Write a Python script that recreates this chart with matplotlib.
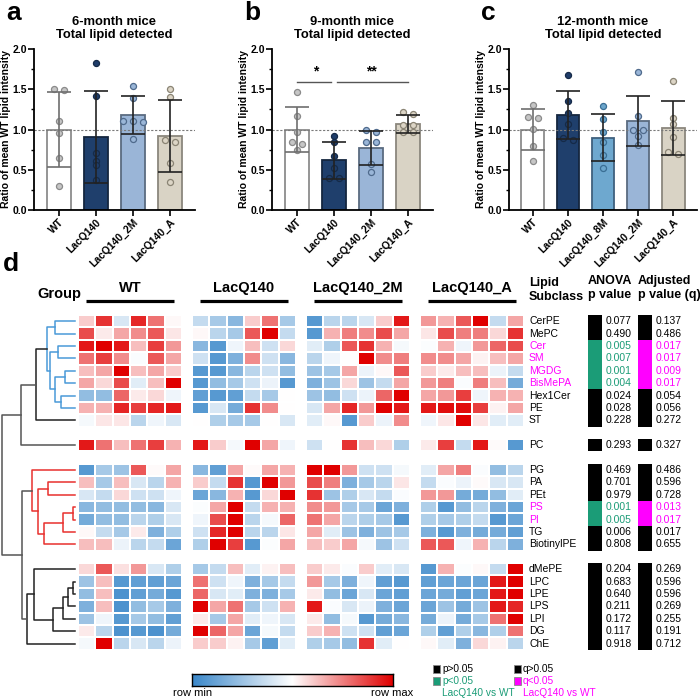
import numpy as np
import matplotlib
matplotlib.use("Agg")
import matplotlib.pyplot as plt
from matplotlib.colors import LinearSegmentedColormap
from matplotlib.patches import Rectangle

plt.rcParams['font.family'] = ['Liberation Sans', 'DejaVu Sans']

# ---------------- bar panel data ----------------
groups_ab = ['WT', 'LacQ140', 'LacQ140_2M', 'LacQ140_A']
groups_c = ['WT', 'LacQ140', 'LacQ140_8M', 'LacQ140_2M', 'LacQ140_A']

mean_a = [1.00, 0.91, 1.18, 0.92]
sd_a = [0.47, 0.57, 0.24, 0.45]
pts_a = [[1.49, 1.50, 1.10, 0.96, 0.65, 0.30],
         [1.82, 1.41, 0.71, 0.61, 0.56, 0.37],
         [1.54, 1.39, 1.10, 1.09, 1.10, 0.88],
         [1.50, 1.40, 0.84, 0.87, 0.59, 0.35]]

mean_b = [1.00, 0.62, 0.77, 1.07]
sd_b = [0.28, 0.23, 0.21, 0.11]
pts_b = [[1.47, 1.17, 0.97, 0.84, 0.82, 0.74],
         [0.92, 0.85, 0.67, 0.52, 0.40, 0.40],
         [1.00, 0.97, 0.84, 0.84, 0.57, 0.47],
         [1.22, 1.19, 1.06, 1.06, 0.97, 0.97]]

mean_c = [1.00, 1.18, 0.90, 1.10, 1.02]
sd_c = [0.25, 0.30, 0.29, 0.31, 0.34]
pts_c = [[1.30, 1.16, 1.14, 1.01, 0.80, 0.61],
         [1.68, 1.36, 1.20, 1.07, 0.89, 0.87],
         [1.29, 1.13, 0.97, 0.85, 0.68, 0.52],
         [1.71, 1.17, 1.00, 1.00, 0.92, 0.81],
         [1.60, 1.14, 1.07, 0.91, 0.72, 0.70]]

bar_fill = {'WT': 'white', 'LacQ140': '#1f3f6c', 'LacQ140_8M': '#6ea8cf',
            'LacQ140_2M': '#9ab5d7', 'LacQ140_A': '#d9d3c5'}
bar_edge = {'WT': '#8c8c8c', 'LacQ140': '#15263f', 'LacQ140_8M': '#3f607e',
            'LacQ140_2M': '#5a6b80', 'LacQ140_A': '#8b877d'}
pt_fill = {'WT': '#c6c6c6', 'LacQ140': '#1f3d6a', 'LacQ140_8M': '#6ca6cc',
           'LacQ140_2M': '#9ab6d8', 'LacQ140_A': '#dcd5c6'}
pt_edge = {'WT': '#8a8a8a', 'LacQ140': '#152a48', 'LacQ140_8M': '#3a6e94',
           'LacQ140_2M': '#4f6a8c', 'LacQ140_A': '#8a8474'}

# ---------------- heatmap data (row-scaled, -1 = row min, 1 = row max) ----------------
lipids = ['CerPE', 'MePC', 'Cer', 'SM', 'MGDG', 'BisMePA', 'Hex1Cer', 'PE', 'ST',
          'PC',
          'PG', 'PA', 'PEt', 'PS', 'PI', 'TG', 'BiotinylPE',
          'dMePE', 'LPC', 'LPE', 'LPS', 'LPI', 'DG', 'ChE']
anova_p = ['0.077', '0.490', '0.005', '0.007', '0.001', '0.004', '0.024', '0.028', '0.228',
           '0.293',
           '0.469', '0.701', '0.979', '0.001', '0.005', '0.006', '0.808',
           '0.204', '0.683', '0.640', '0.211', '0.172', '0.117', '0.918']
adj_q = ['0.137', '0.486', '0.017', '0.017', '0.009', '0.017', '0.054', '0.056', '0.272',
         '0.327',
         '0.486', '0.596', '0.728', '0.013', '0.017', '0.017', '0.655',
         '0.269', '0.596', '0.596', '0.269', '0.255', '0.191', '0.712']
sig_vs_wt = [0, 0, 1, 1, 1, 1, 0, 0, 0,
             0,
             0, 0, 0, 1, 1, 0, 0,
             0, 0, 0, 0, 0, 0, 0]

hm_wt = [
    [0.20, 0.80, -0.20, 0.85, 0.55, 0.03],
    [0.70, 0.08, 0.35, 0.45, 0.65, 0.10],
    [0.90, 1.00, 0.90, 0.25, 0.75, 0.40],
    [0.55, 0.75, 0.45, -0.03, 0.65, 0.35],
    [0.25, 0.35, 1.00, 0.25, 0.35, 0.20],
    [0.35, 0.15, 0.70, -0.15, 0.25, 1.00],
    [-0.55, -0.55, 0.60, 0.08, 0.15, -0.08],
    [0.30, 0.30, 0.85, 0.75, 0.85, 0.90],
    [-0.05, 0.10, 0.10, -0.35, -0.08, -0.20],
    [0.90, 0.55, 0.25, 0.55, 0.75, 0.30],
    [-0.85, -0.45, -0.50, 0.65, 0.02, 0.35],
    [0.25, -0.45, 0.25, -0.20, -0.35, 0.30],
    [-0.20, -0.30, 0.15, -0.25, -0.25, -0.08],
    [-0.60, -0.55, -0.55, -0.55, -0.60, -0.20],
    [-0.70, -0.55, -0.55, -0.35, -0.40, -0.20],
    [0.03, -0.30, -0.45, 0.08, -0.65, -0.40],
    [0.25, 0.25, -0.10, -0.35, -0.30, -0.75],
    [0.15, 0.65, 0.12, 0.40, -0.20, -0.40],
    [-0.50, 0.25, -0.85, -0.80, -0.80, -0.75],
    [-0.55, 0.25, -0.90, -0.80, -0.70, -0.85],
    [-0.65, 0.25, -0.90, -0.55, -0.45, -0.65],
    [-0.50, -0.08, -0.85, -0.45, -0.55, -0.80],
    [0.08, -0.35, -0.90, -0.85, -0.90, -0.70],
    [-0.05, 1.00, -0.35, -0.20, -0.35, -0.10]]
hm_q140 = [
    [-0.30, -0.45, -0.60, 0.20, 0.55, -0.45],
    [0.03, -0.35, -0.45, 0.65, 1.00, -0.30],
    [-0.60, -0.85, -0.08, 0.25, -0.25, 0.15],
    [-0.25, -0.85, -0.65, 0.45, -0.25, -0.60],
    [-0.85, -0.85, -0.60, -0.35, -0.25, -0.55],
    [-0.85, -0.55, -0.45, -0.25, -0.10, -0.85],
    [-0.80, -0.85, -0.80, -0.30, -0.45, 0.00],
    [-0.85, -0.20, -0.70, 0.80, 0.45, 0.00],
    [0.00, -0.40, -0.45, -0.45, 0.00, -0.20],
    [0.90, 0.20, -0.05, 1.00, 0.35, -0.08],
    [-0.60, -0.80, 0.35, 0.02, 0.35, 0.30],
    [0.20, -0.30, 0.80, -0.85, 1.00, 0.40],
    [-0.75, -0.60, 0.30, -0.85, 0.15, 1.00],
    [-0.02, 0.35, 1.00, -0.30, 0.30, 0.30],
    [-0.08, 0.70, 1.00, -0.35, -0.05, 0.60],
    [-0.25, 0.85, 1.00, -0.35, -0.35, 0.10],
    [-0.40, 1.00, 0.75, -0.85, -0.02, 0.35],
    [-0.45, -0.30, 0.25, -0.15, 0.05, 0.25],
    [0.55, -0.25, -0.08, -0.65, -0.45, -0.30],
    [0.60, -0.20, -0.15, -0.65, -0.65, -0.45],
    [1.00, 0.35, 0.55, -0.45, -0.25, 0.30],
    [0.08, -0.45, 0.35, -0.15, -0.08, -0.20],
    [1.00, 0.60, 0.35, -0.75, -0.05, -0.30],
    [0.20, 0.20, 0.05, -0.45, -0.80, -0.15]]
hm_2m = [
    [-0.85, -0.35, -0.35, -0.20, 0.20, 0.90],
    [-0.85, 0.30, 0.50, 0.45, 0.70, 0.35],
    [-0.15, -0.40, 0.65, 0.80, 0.30, -0.05],
    [-0.35, -0.08, 0.00, 1.00, 0.45, 0.50],
    [-0.50, -0.45, 0.35, -0.10, 0.03, 0.65],
    [-0.65, -0.50, 0.15, -0.50, -0.30, 0.35],
    [-0.50, -0.55, -0.25, -0.10, 0.60, 1.00],
    [-0.20, 0.35, 0.85, 0.40, 1.00, 0.90],
    [-0.15, 0.03, -0.85, 0.20, -0.10, 0.45],
    [-0.25, 0.00, 0.80, 0.25, 0.15, -0.40],
    [1.00, 1.00, 0.40, -0.25, -0.25, -0.05],
    [0.70, 0.50, -0.65, -0.45, -0.35, 0.10],
    [0.80, -0.50, -0.40, -0.20, -0.30, -0.03],
    [0.45, 0.40, -0.45, -0.45, -0.75, -0.65],
    [0.55, 0.35, -0.35, -0.40, -0.45, -0.85],
    [0.35, -0.15, -0.50, -0.65, -0.50, -0.45],
    [0.25, 0.20, 0.35, -0.05, -0.50, -0.25],
    [0.20, 0.08, -0.03, 0.20, -0.15, -0.20],
    [0.40, -0.45, -0.65, -0.08, -0.80, -0.85],
    [0.08, -0.55, -0.75, -0.20, -0.75, -0.80],
    [0.90, -0.03, -0.20, -0.10, -0.65, -0.75],
    [0.08, -0.55, -0.05, -0.85, -0.70, -0.60],
    [0.20, 0.30, -0.25, -0.25, -0.80, -0.75],
    [-0.40, -0.45, -0.55, 0.80, -0.15, 0.00]]
hm_a = [
    [0.40, 0.30, 0.65, 1.00, -0.30, 0.35],
    [0.10, 0.70, 0.50, 0.50, 0.15, 0.80],
    [-0.02, 0.30, -0.08, 0.40, 0.60, 0.70],
    [0.45, 0.45, 0.35, 0.05, 0.25, 0.35],
    [0.20, 0.08, 0.25, 0.25, -0.10, -0.30],
    [0.40, 0.50, -0.03, 0.50, 0.25, -0.70],
    [0.35, 0.40, 0.75, -0.08, 0.30, 0.30],
    [0.90, 0.95, 0.95, 0.75, 0.05, 0.35],
    [-0.08, 0.10, 1.00, 0.10, -0.15, -0.15],
    [0.08, 0.75, -0.30, 0.90, 0.02, -0.85],
    [-0.15, 0.35, 0.50, -0.03, -0.55, -0.35],
    [-0.30, -0.03, -0.10, 0.02, -0.20, -0.20],
    [0.40, 0.40, -0.70, -0.70, -0.55, -0.15],
    [-0.40, -0.85, -0.55, -0.35, -0.65, -0.75],
    [-0.40, -0.45, -0.40, -0.30, -0.85, -0.75],
    [-0.65, -0.85, -0.65, -0.70, -0.70, -0.80],
    [0.65, 0.65, -0.08, 0.30, -0.35, -0.65],
    [-0.85, 0.30, -0.02, 0.03, -0.30, 1.00],
    [-0.80, -0.75, -0.75, -0.75, 0.90, 1.00],
    [-0.75, -0.70, -0.80, -0.75, 0.90, 1.00],
    [-0.75, -0.50, -0.70, -0.50, 0.90, 0.85],
    [-0.70, -0.10, -0.70, -0.45, 0.55, 1.00],
    [-0.40, -0.80, -0.40, -0.60, -0.40, 0.55],
    [0.03, -0.15, -0.65, 0.15, 0.05, -0.35]]
hm_groups = ['WT', 'LacQ140', 'LacQ140_2M', 'LacQ140_A']
hm_data = [hm_wt, hm_q140, hm_2m, hm_a]

# row clustering tree: (link colour, merge distance, left, right); ints are row indices
BL, RD, BK, GR = '#4a9ad8', '#e8302e', '#222222', '#555555'
tree = (GR, 73,
        (GR, 54,
         (BK, 39,
          (BL, 28, (BL, 20, 0, 1),
           (BL, 25, (BL, 17, 2, 3),
            (BL, 20, (BL, 10, 4, 5), (BL, 14, 6, 7)))),
          8),
         9),
        (GR, 53,
         (RD, 43, 10,
          (RD, 37, (RD, 27, 11, 12),
           (RD, 31, (RD, 12, (RD, 2, 13, 14), 15), 16))),
         (BK, 48,
          (BK, 41, 17,
           (BK, 22, (BK, 12, (BK, 7, (BK, 2, 18, 19), 20), 21), 22)),
          23)))

# ---------------- figure ----------------
W, H = 700, 699
fig = plt.figure(figsize=(7.0, 6.99), dpi=100)
hax = fig.add_axes([0, 0, 1, 1])
hax.set_xlim(0, W)
hax.set_ylim(H, 0)
hax.axis('off')


def bar_panel(rect, groups, means, sds, pts, title, letter, wbar):
    l, t, r, b = rect
    ax = fig.add_axes([l / W, 1 - b / H, (r - l) / W, (b - t) / H])
    x = np.arange(len(groups))
    for i, g in enumerate(groups):
        ax.bar(x[i], means[i], width=wbar, color=bar_fill[g], edgecolor=bar_edge[g],
               linewidth=1.3, zorder=1)
        # simple swarm: spread points sharing nearly the same value
        p = np.sort(np.array(pts[i]))[::-1]
        xs = np.zeros(len(p))
        k = 0
        while k < len(p):
            j = k
            while j + 1 < len(p) and abs(p[j + 1] - p[k]) < 0.035:
                j += 1
            n = j - k + 1
            xs[k:j + 1] = (np.arange(n) - (n - 1) / 2) * 0.28
            k = j + 1
        ax.scatter(x[i] + xs, p, s=19, color=pt_fill[g], edgecolor=pt_edge[g],
                   linewidth=0.9, zorder=3)
        ec = '#6e6e6e' if g == 'WT' else '#222222'
        ax.errorbar(x[i], means[i], yerr=sds[i], color=ec, capsize=8.5,
                    elinewidth=1.2, capthick=1.2, zorder=4)
    ax.axhline(1.0, color='#7a7a7a', lw=0.8, ls=(0, (2, 1.5)), zorder=2)
    ax.set_ylim(0, 2.0)
    ax.set_xlim(-0.67, len(groups) - 0.33)
    ax.set_yticks([0, 0.5, 1.0, 1.5, 2.0])
    ax.set_yticklabels(['0.0', '0.5', '1.0', '1.5', '2.0'], fontsize=7.5, fontweight='bold')
    ax.set_yticks(np.arange(0.25, 2.0, 0.5), minor=True)
    ax.set_xticks(x)
    ax.set_xticklabels(groups, rotation=45, ha='right', rotation_mode='anchor',
                       fontsize=7.5, fontweight='bold')
    ax.tick_params(axis='y', length=4, width=1.2, pad=1)
    ax.tick_params(axis='y', which='minor', length=2.5, width=1.0)
    ax.tick_params(axis='x', length=4, width=1.2, pad=1)
    for s in ['top', 'right']:
        ax.spines[s].set_visible(False)
    for s in ['left', 'bottom']:
        ax.spines[s].set_linewidth(1.3)
    ax.set_ylabel('Ratio of mean WT lipid intensity', fontsize=7.5, fontweight='bold',
                  labelpad=1)
    ax.set_title(title, fontsize=9.4, fontweight='bold', pad=8, linespacing=1.15)
    hax.text(l - 28, 13, letter, fontsize=19, fontweight='bold', ha='left', va='center')
    return ax


bar_panel((34, 49, 195, 210), groups_ab, mean_a, sd_a, pts_a,
          '6-month mice\nTotal lipid detected', 'a', 0.65)
axb = bar_panel((272, 49, 433, 210), groups_ab, mean_b, sd_b, pts_b,
                '9-month mice\nTotal lipid detected', 'b', 0.65)
bar_panel((509, 49, 697, 210), groups_c, mean_c, sd_c, pts_c,
          '12-month mice\nTotal lipid detected', 'c', 0.63)

# significance marks in b
axb.plot([0, 0.93], [1.59, 1.59], color='#555', lw=1.0)
axb.plot([1.07, 3.0], [1.59, 1.59], color='#555', lw=1.0)
axb.text(0.5, 1.63, '*', ha='center', va='bottom', fontsize=10, fontweight='bold')
axb.text(2.0, 1.63, '**', ha='center', va='bottom', fontsize=10, fontweight='bold')

# ---------------- panel d ----------------
hax.text(3, 264, 'd', fontsize=19, fontweight='bold', ha='left', va='center')

row_top, row_h = 315.0, 12.4
block_start = [0, 10, 12, 20]
blocks = [(0, 9), (9, 10), (10, 17), (17, 24)]
slot = np.zeros(len(lipids))
for (a, b), s0 in zip(blocks, block_start):
    slot[a:b] = s0 + np.arange(b - a)
row_y = row_top + (slot + 0.5) * row_h

cmap = LinearSegmentedColormap.from_list('rowscale', ['#3a87c9', '#ffffff', '#e00000'])
col_w = 104 / 6
for gi, g in enumerate(hm_groups):
    x0 = 78 + gi * 114
    arr = np.array(hm_data[gi])
    xe = x0 + np.arange(7) * col_w
    for (a, b), s0 in zip(blocks, block_start):
        ye = row_top + (s0 + np.arange(b - a + 1)) * row_h
        hax.pcolormesh(xe, ye, arr[a:b], cmap=cmap, vmin=-1, vmax=1,
                       edgecolors='#ffffff', linewidth=0.15)
    hax.text(x0 + 52, 288, g, fontsize=10.5, fontweight='bold', ha='center', va='center')
    hax.plot([x0 + 8, x0 + 96], [301, 301], color='black', lw=2.3, solid_capstyle='butt')
hax.text(37, 294, 'Group', fontsize=10.5, fontweight='bold', ha='left', va='center')

# dendrogram
leaf_x = 75


def draw_node(node):
    if isinstance(node, int):
        return row_y[node], leaf_x
    color, h, a, b = node
    ya, xa = draw_node(a)
    yb, xb = draw_node(b)
    xn = leaf_x - h
    hax.plot([xa, xn, xn, xb], [ya, ya, yb, yb], color=color, lw=1.1)
    return (ya + yb) / 2, xn


draw_node(tree)

# labels and p-value columns
hax.text(529, 290, 'Lipid\nSubclass', fontsize=9, fontweight='bold', ha='left',
         va='center', linespacing=1.2)
hax.text(588, 288, 'ANOVA\np value', fontsize=9, fontweight='bold', ha='left',
         va='center', linespacing=1.2)
hax.text(638, 288, 'Adjusted\np value (q)', fontsize=9, fontweight='bold', ha='left',
         va='center', linespacing=1.2)
green, magenta = '#1b9c77', '#ff00ff'
for i, name in enumerate(lipids):
    y = row_y[i]
    sig = sig_vs_wt[i] == 1
    hax.text(529, y, name, fontsize=7.5, color=magenta if sig else 'black',
             ha='left', va='center')
    hax.add_patch(Rectangle((588, y - row_h / 2), 14, row_h,
                            facecolor=green if sig else 'black', edgecolor='none'))
    hax.text(606, y, anova_p[i], fontsize=7.5, color=green if sig else 'black',
             ha='left', va='center')
    hax.add_patch(Rectangle((638, y - row_h / 2), 14, row_h,
                            facecolor=magenta if sig else 'black', edgecolor='none'))
    hax.text(656, y, adj_q[i], fontsize=7.5, color=magenta if sig else 'black',
             ha='left', va='center')

# colour scale
cax = fig.add_axes([192 / W, 1 - 686 / H, 201 / W, 12 / H])
cax.imshow(np.linspace(-1, 1, 256)[None, :], aspect='auto', cmap=cmap, vmin=-1, vmax=1)
cax.set_xticks([])
cax.set_yticks([])
for s in cax.spines.values():
    s.set_linewidth(1.0)
hax.text(173, 692.5, 'row min', fontsize=8, ha='left', va='center')
hax.text(413, 692.5, 'row max', fontsize=8, ha='right', va='center')

# legend
for x0, lab_hi, lab_lo, col in [(433, 'p>0.05', 'p<0.05', green),
                                (514, 'q>0.05', 'q<0.05', magenta)]:
    hax.add_patch(Rectangle((x0, 665), 7, 8, facecolor='black', edgecolor='#888', lw=0.6))
    hax.add_patch(Rectangle((x0, 677), 7, 8, facecolor=col, edgecolor='#888', lw=0.6))
    hax.text(x0 + 9, 669, lab_hi, fontsize=7.3, ha='left', va='center')
    hax.text(x0 + 9, 681, lab_lo, fontsize=7.3, color=col, ha='left', va='center')
    hax.text(x0 + 9, 692.5, 'LacQ140 vs WT', fontsize=7.3, color=col, ha='left', va='center')

fig.savefig('out.png', dpi=100)
